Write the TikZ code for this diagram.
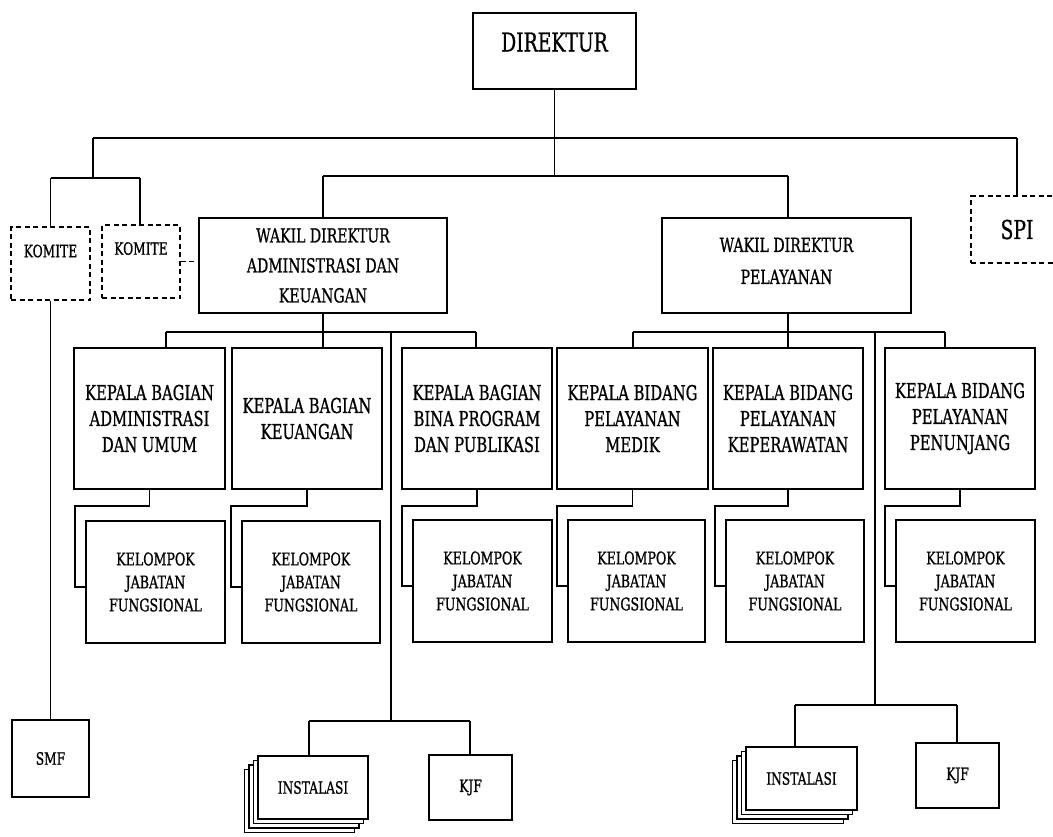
\documentclass[tikz,border=0pt]{standalone}
\usepackage{fontspec}
\setmainfont[FakeStretch=0.72,FakeBold=0.8]{DejaVu Serif}
\usetikzlibrary{calc}
\begin{document}
\begin{tikzpicture}[x=1pt,y=-1pt,
  box/.style={draw, line width=1.8pt, fill=white, inner sep=0pt, align=center},
  dbox/.style={box, line width=1.6pt, dash pattern=on 5pt off 3.5pt},
  conn/.style={line width=1.6pt},
  lbl/.style={inner sep=0pt, align=center},
  fbig/.style={font=\fontsize{26}{30}\selectfont},
  fwak/.style={font=\fontsize{19.5}{30}\selectfont},
  fwp/.style={font=\fontsize{19.5}{32}\selectfont},
  fkep/.style={font=\fontsize{20.5}{26}\selectfont},
  fkel/.style={font=\fontsize{17.5}{23}\selectfont},
  fsml/.style={font=\fontsize{17}{22}\selectfont},
]
\useasboundingbox (0,0) rectangle (1053,836);

% top level
\node[box,fbig,minimum width=163pt,minimum height=76pt,text height=19pt,text depth=18pt] (dir) at (554.5,51) {DIREKTUR};
\node[dbox,fsml,minimum width=79pt,minimum height=73pt,text height=12.4pt,text depth=25pt] (k1) at (50.5,263.5) {KOMITE};
\node[dbox,fsml,minimum width=78pt,minimum height=73pt,text height=12.4pt,text depth=26pt] (k2) at (141,261.5) {KOMITE};
\node[dbox,fbig,minimum width=92pt,minimum height=67pt] (spi) at (1017,229.5) {SPI};
\node[box,fwak,minimum width=248pt,minimum height=95pt] (wdak) at (323,265.5) {WAKIL DIREKTUR\\ADMINISTRASI DAN\\KEUANGAN};
\node[box,minimum width=249pt,minimum height=95pt] (wdp) at (786.5,265.5) {};
\node[lbl,fwp] (wdptext) at (786.5,261) {WAKIL DIREKTUR\\PELAYANAN};

% kepala
\node[box,fkep,minimum width=151pt,minimum height=141pt] (kb1) at (149.5,418.5) {KEPALA BAGIAN\\ADMINISTRASI\\DAN UMUM};
\node[box,fkep,minimum width=150pt,minimum height=141pt] (kb2) at (307,418.5) {KEPALA BAGIAN\\KEUANGAN};
\node[box,fkep,minimum width=150pt,minimum height=141pt] (kb3) at (477,418.5) {KEPALA BAGIAN\\BINA PROGRAM\\DAN PUBLIKASI};
\node[box,fkep,minimum width=151pt,minimum height=141pt] (kd1) at (632.5,418.5) {KEPALA BIDANG\\PELAYANAN\\MEDIK};
\node[box,fkep,minimum width=150pt,minimum height=141pt] (kd2) at (788,418.5) {KEPALA BIDANG\\PELAYANAN\\KEPERAWATAN};
\node[box,fkep,minimum width=150pt,minimum height=141pt] (kd3) at (960,418.5) {KEPALA BIDANG\\PELAYANAN\\PENUNJANG};

% kelompok
\node[box,fkel,minimum width=139pt,minimum height=122pt] (kj1) at (155.5,582) {KELOMPOK\\JABATAN\\FUNGSIONAL};
\node[box,fkel,minimum width=138pt,minimum height=122pt] (kj2) at (311,582) {KELOMPOK\\JABATAN\\FUNGSIONAL};
\node[box,fkel,minimum width=139pt,minimum height=122pt] (kj3) at (482.5,581) {KELOMPOK\\JABATAN\\FUNGSIONAL};
\node[box,fkel,minimum width=137pt,minimum height=122pt] (kj4) at (636.5,581) {KELOMPOK\\JABATAN\\FUNGSIONAL};
\node[box,fkel,minimum width=138pt,minimum height=122pt] (kj5) at (795,581) {KELOMPOK\\JABATAN\\FUNGSIONAL};
\node[box,fkel,minimum width=139pt,minimum height=122pt] (kj6) at (965.5,581) {KELOMPOK\\JABATAN\\FUNGSIONAL};

% bottom
\node[box,fsml,minimum width=77pt,minimum height=77pt] (smf) at (50.5,758.5) {SMF};
\foreach \k in {3,2,1}
  \draw[line width=1.5pt, fill=white] (258-4.5*\k,756+4.5*\k) rectangle (368-4.5*\k,819+4.5*\k);
\node[box,fsml,minimum width=110pt,minimum height=63pt] (inst1) at (313,787.5) {INSTALASI};
\node[box,fsml,minimum width=83pt,minimum height=65pt] (kjf1) at (470.5,787.5) {KJF};
\foreach \k in {3,2,1}
  \draw[line width=1.5pt, fill=white] (746-4.5*\k,747+4.5*\k) rectangle (857-4.5*\k,810+4.5*\k);
\node[box,fsml,minimum width=111pt,minimum height=63pt] (inst2) at (801.5,778.5) {INSTALASI};
\node[box,fsml,minimum width=83pt,minimum height=65pt] (kjf2) at (957.5,775.5) {KJF};

% junctions
\coordinate (jmid) at (554.5,176);
\coordinate (jl) at (93,138);
\coordinate (jr) at (1017,138);
\coordinate (jk) at (93,178);
\coordinate (jkl) at (50.5,178);
\coordinate (jkr) at (140,178);
\coordinate (ja) at (323,176);
\coordinate (jb) at (788,176);
\coordinate (ha) at (323,332);
\coordinate (ha1) at (166,332);
\coordinate (ha3) at (476,332);
\coordinate (va) at (391,332);
\coordinate (vb) at (391,721);
\coordinate (hb1) at (309,721);
\coordinate (hb2) at (470,721);
\coordinate (hp) at (788,332);
\coordinate (hp1) at (633,332);
\coordinate (hp3) at (945,332);
\coordinate (vp) at (875,332);
\coordinate (vq) at (875,705);
\coordinate (hq1) at (795,705);
\coordinate (hq2) at (957,705);

% connectors
\draw[conn] (dir.south) -- (jmid);
\draw[conn] (jl) -- (jr);
\draw[conn] (jl) -- (jk);
\draw[conn] (jkl) -- (jkr);
\draw[conn] (jkl) -- (k1.north);
\draw[conn] (jkr) -- (jkr |- k2.north);
\draw[conn] (jr) -- (spi.north);
\draw[conn] (ja) -- (jb);
\draw[conn] (ja) -- (wdak.north);
\draw[conn] (jb) -- (jb |- wdp.north);
\draw[conn, dash pattern=on 5pt off 3.5pt] (k2.east) -- (k2.east -| wdak.west);
\draw[conn] (k1.south) -- (smf.north);

\draw[conn] (wdak.south) -- (ha);
\draw[conn] (ha1) -- (ha3);
\draw[conn] (ha1) -- (ha1 |- kb1.north);
\draw[conn] (ha) -- (ha |- kb2.north);
\draw[conn] (ha3) -- (ha3 |- kb3.north);
\draw[conn] (va) -- (vb);
\draw[conn] (hb1) -- (hb2);
\draw[conn] (hb1) -- (hb1 |- inst1.north);
\draw[conn] (hb2) -- (hb2 |- kjf1.north);

\draw[conn] (hp |- wdp.south) -- (hp);
\draw[conn] (hp1) -- (hp3);
\draw[conn] (hp1) -- (hp1 |- kd1.north);
\draw[conn] (hp) -- (kd2.north);
\draw[conn] (hp3) -- (hp3 |- kd3.north);
\draw[conn] (vp) -- (vq);
\draw[conn] (hq1) -- (hq2);
\draw[conn] (hq1) -- (hq1 |- inst2.north);
\draw[conn] (hq2) -- (hq2 |- kjf2.north);

\foreach \a/\b in {kb1/kj1,kb2/kj2,kb3/kj3,kd1/kj4,kd2/kj5,kd3/kj6}
  \draw[conn] (\a.south) -- ++(0,16) -| ($(\b.west)+(-10,5)$) -- ($(\b.west)+(0,5)$);
\end{tikzpicture}
\end{document}
